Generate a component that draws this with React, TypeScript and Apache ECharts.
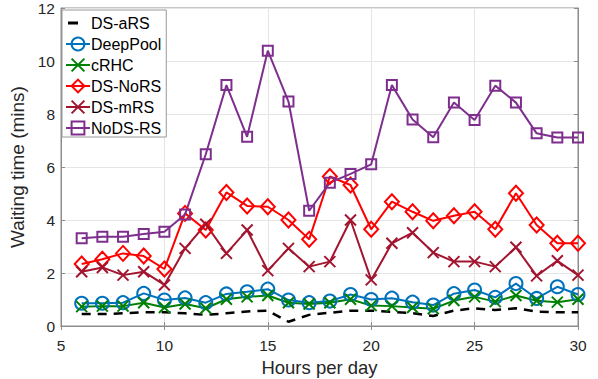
import React, { useEffect, useRef } from "react";
import * as echarts from "echarts";

const hours = [6, 7, 8, 9, 10, 11, 12, 13, 14, 15, 16, 17, 18, 19, 20, 21, 22, 23, 24, 25, 26, 27, 28, 29, 30];
const dsARS = [0.45, 0.45, 0.48, 0.52, 0.52, 0.48, 0.42, 0.48, 0.55, 0.58, 0.16, 0.42, 0.5, 0.58, 0.58, 0.53, 0.48, 0.38, 0.58, 0.67, 0.6, 0.67, 0.54, 0.52, 0.52];
const deepPool = [0.86, 0.86, 0.88, 1.23, 0.98, 1.06, 0.88, 1.21, 1.29, 1.39, 0.98, 0.88, 0.94, 1.19, 1.0, 1.05, 0.9, 0.79, 1.22, 1.36, 1.08, 1.6, 1.04, 1.48, 1.19];
const cRHC = [0.73, 0.75, 0.75, 0.88, 0.7, 0.83, 0.67, 1.01, 1.1, 1.15, 0.88, 0.83, 0.88, 1.01, 0.77, 0.75, 0.7, 0.65, 0.96, 1.1, 0.92, 1.15, 0.95, 0.9, 1.01];
const dsNoRS = [2.34, 2.52, 2.74, 2.64, 2.15, 4.25, 3.62, 5.04, 4.53, 4.5, 4.0, 3.27, 5.64, 5.32, 3.65, 4.69, 4.31, 3.97, 4.16, 4.31, 3.65, 5.01, 3.81, 3.12, 3.12];
const dsMRS = [2.05, 2.21, 1.92, 2.05, 1.55, 2.93, 3.84, 2.74, 3.62, 2.09, 2.93, 2.24, 2.43, 4.0, 1.74, 3.12, 3.52, 2.77, 2.43, 2.43, 2.24, 2.97, 1.89, 2.46, 1.92];
const noDSRS = [3.31, 3.37, 3.37, 3.47, 3.56, 4.21, 6.48, 9.09, 7.14, 10.39, 8.47, 4.35, 5.41, 5.74, 6.1, 9.09, 7.79, 7.12, 8.43, 7.77, 9.07, 8.43, 7.27, 7.11, 7.11];

const seriesNames = ["DS-aRS", "DeepPool", "cRHC", "DS-NoRS", "DS-mRS", "NoDS-RS"];
const xTicks = { min: 5, max: 30, interval: 5 };
const yTicks = { min: 0, max: 12, interval: 2 };

const FONT = "'Liberation Sans', Arial, Helvetica, sans-serif";
const X_PATH = "path://M0,0L10,10M0,10L10,0";
// short bar inside a 24x16 box (corner points fix the bounding box)
const DASH_ICON = "path://M0,0L0.01,0L0.01,0.01Z M24,16L23.99,16L23.99,15.99Z M2,6.5L12,6.5L12,9.5L2,9.5Z";

function pairs(vals: number[]) {
  return hours.map((h, i) => [h, vals[i]]);
}

export default function App() {
  const ref = useRef<HTMLDivElement>(null);
  useEffect(() => {
    if (!ref.current) return;
    const chart = echarts.init(ref.current, undefined, { renderer: "svg" });
    const axisGray = "#8c8c8c";
    const labelColor = "#262626";
    const mk = (
      name: string,
      vals: number[],
      color: string,
      symbol: string,
      size: number | number[],
      extra: any = {}
    ) => ({
      name,
      type: "line",
      data: pairs(vals),
      symbol,
      symbolSize: size,
      showSymbol: symbol !== "none",
      lineStyle: { color, width: 2 },
      itemStyle: { color: "rgba(0,0,0,0)", borderColor: color, borderWidth: 2 },
      emphasis: { disabled: true },
      ...extra,
    });
    chart.setOption({
      animation: false,
      textStyle: { fontFamily: FONT },
      grid: {
        left: 61,
        right: 20,
        top: 8,
        bottom: 53,
        outerBoundsMode: "none",
        containLabel: false,
        show: true,
        borderColor: axisGray,
        borderWidth: 1,
        backgroundColor: "#fff",
      },
      legend: {
        orient: "vertical",
        left: 62,
        top: 10,
        padding: [5, 5, 1, 3],
        itemWidth: 24,
        itemHeight: 16,
        itemGap: 5,
        backgroundColor: "#fff",
        borderColor: "#999",
        borderWidth: 1,
        borderRadius: 0,
        textStyle: { fontSize: 16, lineHeight: 16, color: "#000", fontFamily: FONT, padding: [0, 0, 0, -4] },
        data: seriesNames.map((n, i) =>
          i === 0 ? { name: n, icon: DASH_ICON, itemStyle: { color: "#000", borderWidth: 0 } } : n
        ),
        selectedMode: false,
      },
      xAxis: [
        {
          type: "value",
          ...xTicks,
          name: "Hours per day",
          nameLocation: "middle",
          nameGap: 32,
          nameTextStyle: { fontSize: 18.5, lineHeight: 18, color: labelColor, fontFamily: FONT },
          axisLine: { show: true, lineStyle: { color: axisGray } },
          axisTick: { show: true, inside: true, length: 4, lineStyle: { color: axisGray } },
          axisLabel: { fontSize: 15.5, color: labelColor, margin: 11, fontFamily: FONT },
          splitLine: { show: true, lineStyle: { color: "#e5e5e5", width: 1 } },
        },
        {
          type: "value",
          position: "top",
          ...xTicks,
          axisLine: { show: true, lineStyle: { color: axisGray } },
          axisTick: { show: true, inside: true, length: 4, lineStyle: { color: axisGray } },
          axisLabel: { show: false },
          splitLine: { show: false },
        },
      ],
      yAxis: [
        {
          type: "value",
          ...yTicks,
          name: "Waiting time (mins)",
          nameLocation: "middle",
          nameGap: 27,
          nameTextStyle: { fontSize: 19, color: labelColor, fontFamily: FONT },
          axisLine: { show: true, lineStyle: { color: axisGray } },
          axisTick: { show: true, inside: true, length: 4, lineStyle: { color: axisGray } },
          axisLabel: { fontSize: 15.5, color: labelColor, margin: 6, fontFamily: FONT },
          splitLine: { show: true, lineStyle: { color: "#e5e5e5", width: 1 } },
        },
        {
          type: "value",
          position: "right",
          ...yTicks,
          axisLine: { show: true, lineStyle: { color: axisGray } },
          axisTick: { show: true, inside: true, length: 4, lineStyle: { color: axisGray } },
          axisLabel: { show: false },
          splitLine: { show: false },
        },
      ],
      series: [
        mk("DS-aRS", dsARS, "#000000", "none", 0, {
          lineStyle: { color: "#000", width: 2.5, type: [9, 7] },
          itemStyle: { color: "#000" },
        }),
        mk("DeepPool", deepPool, "#0072BD", "circle", 13),
        mk("cRHC", cRHC, "#008000", X_PATH, 11),
        mk("DS-NoRS", dsNoRS, "#FF0000", "diamond", [14, 15]),
        mk("DS-mRS", dsMRS, "#A2142F", X_PATH, 11),
        mk("NoDS-RS", noDSRS, "#7E2F8E", "rect", 10),
      ],
    });
    return () => chart.dispose();
  }, []);
  return (
    <div
      ref={ref}
      style={{ position: "fixed", left: 0, top: 0, width: 598, height: 379, background: "#fff" }}
    />
  );
}
